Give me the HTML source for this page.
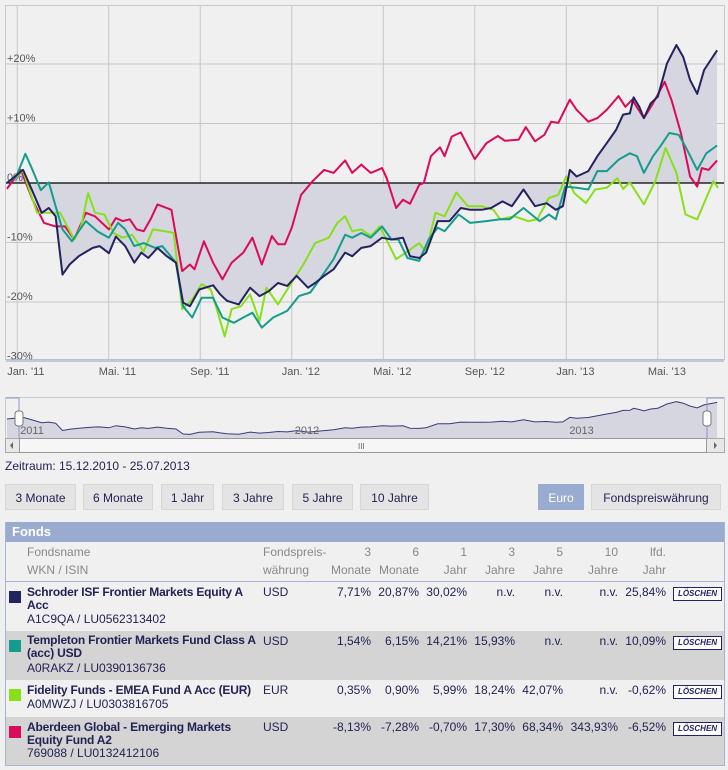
<!DOCTYPE html>
<html><head><meta charset="utf-8">
<style>
body{margin:0;width:728px;height:770px;background:#f0f0f0;font-family:"Liberation Sans",Arial,sans-serif;overflow:hidden;position:relative;color:#222255}
.abs{position:absolute}
.btn{position:absolute;top:484px;height:26px;line-height:26px;background:#e4e4e4;border:1px solid #d6d6d6;font-size:12px;text-align:center;color:#222255;box-sizing:border-box}
.tbl{position:absolute;left:5px;top:522px;width:718px;height:243px;border-left:1px solid #a8b4d4;border-right:1px solid #a8b4d4;border-bottom:1px solid #a8b4d4}
.hdr{position:absolute;left:0;top:0;width:718px;height:20px;background:#9aabd0;color:#fff;font-weight:bold;font-size:13px;line-height:20px;padding-left:6px;box-sizing:border-box}
.ch{position:absolute;font-size:12px;color:#888;line-height:18px}
.row{position:absolute;left:0;width:718px}
.cell{position:absolute;font-size:12px;line-height:13px;color:#222255}
.nm{font-weight:bold;width:232px;letter-spacing:-0.2px}
.r{text-align:right}
.sw{position:absolute;left:3px;width:12px;height:12px}
.del{position:absolute;left:667px;width:47px;height:12px;border:1px solid #222266;background:#fff;font-size:8px;font-weight:bold;font-style:italic;line-height:12px;text-align:center;color:#222266}
</style></head><body>
<svg id="chart" class="abs" style="left:0;top:0" width="728" height="460"></svg>
<div class="abs" style="left:5px;top:459px;font-size:12px;color:#222255">Zeitraum: 15.12.2010 - 25.07.2013</div>
<div class="btn" style="left:5px;width:71px">3 Monate</div>
<div class="btn" style="left:83px;width:70px">6 Monate</div>
<div class="btn" style="left:161px;width:53px">1 Jahr</div>
<div class="btn" style="left:222px;width:62px">3 Jahre</div>
<div class="btn" style="left:292px;width:61px">5 Jahre</div>
<div class="btn" style="left:360px;width:69px">10 Jahre</div>
<div class="btn" style="left:538px;width:46px;background:#9aabd0;color:#fff;border-color:#9aabd0">Euro</div>
<div class="btn" style="left:591px;width:130px">Fondspreiswährung</div>

<div class="tbl">
<div class="hdr">Fonds</div>
<div class="ch" style="left:21px;top:21px">Fondsname<br>WKN / ISIN</div>
<div class="ch" style="left:257px;top:21px">Fondspreis-<br>währung</div>
<div class="ch r" style="left:305px;width:60px;top:21px">3<br>Monate</div>
<div class="ch r" style="left:353px;width:60px;top:21px">6<br>Monate</div>
<div class="ch r" style="left:401px;width:60px;top:21px">1<br>Jahr</div>
<div class="ch r" style="left:449px;width:60px;top:21px">3<br>Jahre</div>
<div class="ch r" style="left:497px;width:60px;top:21px">5<br>Jahre</div>
<div class="ch r" style="left:552px;width:60px;top:21px">10<br>Jahre</div>
<div class="ch r" style="left:600px;width:60px;top:21px">lfd.<br>Jahr</div>
<div class="abs" style="left:0;top:59px;width:718px;height:1px;background:#a8b4d4"></div>

<div class="row" style="top:60px;height:49px;background:#f0f0f0">
<div class="sw" style="top:9px;background:#23235e"></div>
<div class="cell nm" style="left:21px;top:4px">Schroder ISF Frontier Markets Equity A Acc</div>
<div class="cell" style="left:21px;top:31px">A1C9QA / LU0562313402</div>
<div class="cell" style="left:257px;top:4px">USD</div>
<div class="cell r" style="left:305px;width:60px;top:4px">7,71%</div>
<div class="cell r" style="left:353px;width:60px;top:4px">20,87%</div>
<div class="cell r" style="left:401px;width:60px;top:4px">30,02%</div>
<div class="cell r" style="left:449px;width:60px;top:4px">n.v.</div>
<div class="cell r" style="left:497px;width:60px;top:4px">n.v.</div>
<div class="cell r" style="left:552px;width:60px;top:4px">n.v.</div>
<div class="cell r" style="left:600px;width:60px;top:4px">25,84%</div>
<div class="del" style="top:5px">LÖSCHEN</div>
</div>
<div class="row" style="top:109px;height:49px;background:#d4d4d4">
<div class="sw" style="top:9px;background:#149c8c"></div>
<div class="cell nm" style="left:21px;top:3px">Templeton Frontier Markets Fund Class A (acc) USD</div>
<div class="cell" style="left:21px;top:31px">A0RAKZ / LU0390136736</div>
<div class="cell" style="left:257px;top:4px">USD</div>
<div class="cell r" style="left:305px;width:60px;top:4px">1,54%</div>
<div class="cell r" style="left:353px;width:60px;top:4px">6,15%</div>
<div class="cell r" style="left:401px;width:60px;top:4px">14,21%</div>
<div class="cell r" style="left:449px;width:60px;top:4px">15,93%</div>
<div class="cell r" style="left:497px;width:60px;top:4px">n.v.</div>
<div class="cell r" style="left:552px;width:60px;top:4px">n.v.</div>
<div class="cell r" style="left:600px;width:60px;top:4px">10,09%</div>
<div class="del" style="top:5px">LÖSCHEN</div>
</div>
<div class="row" style="top:158px;height:37px;background:#f0f0f0">
<div class="sw" style="top:9px;background:#88e01a"></div>
<div class="cell nm" style="left:21px;top:4px;width:240px">Fidelity Funds - EMEA Fund A Acc (EUR)</div>
<div class="cell" style="left:21px;top:18px">A0MWZJ / LU0303816705</div>
<div class="cell" style="left:257px;top:4px">EUR</div>
<div class="cell r" style="left:305px;width:60px;top:4px">0,35%</div>
<div class="cell r" style="left:353px;width:60px;top:4px">0,90%</div>
<div class="cell r" style="left:401px;width:60px;top:4px">5,99%</div>
<div class="cell r" style="left:449px;width:60px;top:4px">18,24%</div>
<div class="cell r" style="left:497px;width:60px;top:4px">42,07%</div>
<div class="cell r" style="left:552px;width:60px;top:4px">n.v.</div>
<div class="cell r" style="left:600px;width:60px;top:4px">-0,62%</div>
<div class="del" style="top:5px">LÖSCHEN</div>
</div>
<div class="row" style="top:195px;height:48px;background:#d4d4d4">
<div class="sw" style="top:9px;background:#dc0a5a"></div>
<div class="cell nm" style="left:21px;top:4px">Aberdeen Global - Emerging Markets Equity Fund A2</div>
<div class="cell" style="left:21px;top:30px">769088 / LU0132412106</div>
<div class="cell" style="left:257px;top:4px">USD</div>
<div class="cell r" style="left:305px;width:60px;top:4px">-8,13%</div>
<div class="cell r" style="left:353px;width:60px;top:4px">-7,28%</div>
<div class="cell r" style="left:401px;width:60px;top:4px">-0,70%</div>
<div class="cell r" style="left:449px;width:60px;top:4px">17,30%</div>
<div class="cell r" style="left:497px;width:60px;top:4px">68,34%</div>
<div class="cell r" style="left:552px;width:60px;top:4px">343,93%</div>
<div class="cell r" style="left:600px;width:60px;top:4px">-6,52%</div>
<div class="del" style="top:5px">LÖSCHEN</div>
</div>
</div>

<script>
// months since Jan 2011 ; values in %
const schroderMonths=[-0.45,0.26,0.67,1.07,1.38,1.68,1.98,2.29,2.69,3.30,3.60,4.01,4.31,4.72,5.12,5.43,5.73,6.13,6.54,6.94,7.25,7.55,7.96,8.56,8.87,9.17,9.68,10.18,10.59,10.99,11.40,11.80,12.21,12.71,13.02,13.42,13.83,14.33,14.64,15.04,15.45,15.95,16.36,16.86,17.17,17.57,17.87,18.38,18.89,19.39,19.80,20.30,20.71,21.21,21.62,22.13,22.63,23.14,23.54,23.85,24.15,24.45,24.96,25.36,25.77,26.17,26.48,26.78,26.94,27.19,27.39,27.69,28.00,28.40,28.81,29.11,29.41,29.72,30.02,30.59];
const schroderValues=[0,2.2,-1.4,-5.0,-4.2,-5.6,-15.4,-13.7,-12.3,-10.9,-10.6,-11.8,-9.0,-10.6,-13.4,-11.7,-12.6,-10.9,-12.3,-13.4,-20.1,-20.7,-17.9,-17.2,-18.7,-19.8,-20.4,-17.6,-19.0,-18.2,-16.8,-17.3,-15.6,-17.6,-16.8,-15.6,-14.5,-11.7,-12.3,-10.9,-10.6,-9.2,-9.5,-9.2,-12.3,-12.6,-11.7,-6.4,-6.4,-4.2,-4.5,-4.5,-4.2,-3.1,-3.9,-1.1,-3.9,-3.4,-4.5,-3.9,2.2,1.1,2.0,4.5,6.7,8.9,11.5,11.7,14.4,12.8,10.9,13.4,14.5,20.1,23.2,21.2,17.3,15.0,19.0,22.3];
const templetonMonths=[-0.45,-0.04,0.36,0.67,1.03,1.38,1.68,1.98,2.39,3.00,3.50,4.01,4.41,4.72,5.12,5.53,6.03,6.34,6.94,7.25,7.65,8.06,8.56,8.97,9.47,9.88,10.28,10.69,11.19,11.80,12.31,12.81,13.22,13.83,14.33,14.64,15.04,15.45,15.95,16.36,16.66,17.06,17.57,17.98,18.38,18.68,19.29,19.80,20.51,21.11,21.52,22.13,22.83,23.24,23.54,23.95,24.45,24.96,25.36,25.77,26.28,26.78,27.09,27.39,27.79,28.10,28.50,28.91,29.21,29.72,30.12,30.59];
const templetonValues=[0,1.1,4.9,2.2,-1.2,0.1,-3.9,-7.8,-9.8,-6.4,-8.1,-9.2,-6.7,-7.8,-10.6,-10.1,-10.9,-10.6,-13.4,-20.7,-22.6,-19.3,-19.3,-22.6,-23.5,-22.6,-21.8,-24.3,-22.6,-21.5,-19.0,-18.4,-16.2,-12.8,-8.7,-9.2,-8.4,-9.2,-7.3,-9.5,-9.5,-12.6,-13.1,-9.5,-7.5,-8.1,-5.3,-6.7,-6.4,-6.1,-6.1,-4.2,-6.4,-5.3,-6.1,-0.6,-0.8,-1.1,2.0,2.0,3.9,5.0,4.5,1.7,4.5,6.1,8.4,8.1,6.1,2.2,5.0,6.3];
const fidelityMonths=[-0.45,0.26,0.87,1.38,1.88,2.49,2.79,3.10,3.40,3.81,4.21,4.61,5.02,5.53,5.93,6.44,6.84,7.21,7.65,8.06,8.46,8.77,9.07,9.37,9.78,10.18,10.59,10.89,11.40,11.90,12.51,13.02,13.62,13.99,14.33,14.64,15.04,15.45,15.85,16.56,17.06,17.57,17.87,18.28,18.68,19.19,19.70,20.30,20.81,21.11,21.72,22.33,22.73,23.24,23.65,23.99,24.35,24.86,25.26,25.77,26.23,26.48,26.78,27.39,27.89,28.34,28.81,29.21,29.72,30.12,30.43,30.63];
const fidelityValues=[0,2.0,-5.0,-5.0,-5.0,-9.5,-7.3,-1.7,-5.0,-5.3,-8.4,-9.2,-8.7,-11.5,-7.8,-8.1,-8.4,-21.2,-19.6,-17.0,-17.9,-21.8,-25.8,-21.2,-20.7,-18.7,-23.2,-17.6,-20.4,-17.3,-13.7,-10.1,-9.2,-6.7,-5.6,-8.1,-7.8,-8.9,-7.3,-12.8,-11.5,-10.1,-11.6,-5.0,-5.6,-1.6,-3.9,-3.9,-4.5,-6.1,-5.6,-6.4,-6.1,-2.5,-2.0,1.1,-1.7,-3.4,-1.1,-0.8,0.8,-1.0,0.1,-3.6,0.3,5.9,1.7,-5.3,-6.1,-2.5,0.3,-0.8];
const aberdeenMonths=[-0.45,0.16,0.67,1.17,1.68,2.09,2.49,3.00,3.40,4.01,4.31,4.61,4.92,5.22,5.53,5.83,6.13,6.74,7.21,7.55,7.75,8.16,8.56,8.97,9.37,9.88,10.28,10.69,11.13,11.40,11.70,12.00,12.41,12.91,13.42,13.83,14.33,14.64,15.04,15.45,15.65,15.95,16.15,16.56,16.86,17.17,17.57,17.77,18.08,18.48,18.68,18.99,19.39,20.00,20.51,21.01,21.32,21.92,22.23,22.63,23.04,23.34,23.65,24.15,24.45,24.96,25.36,25.77,26.28,26.58,26.88,27.39,27.79,28.30,28.60,29.01,29.41,29.72,29.92,30.22,30.59];
const aberdeenValues=[-1.0,2.2,-2.8,-6.7,-7.3,-7.3,-9.5,-5.0,-5.6,-7.8,-5.9,-6.4,-6.1,-7.8,-8.1,-6.1,-3.6,-4.5,-14.8,-13.7,-14.5,-9.8,-13.4,-16.2,-13.4,-11.7,-9.2,-13.7,-8.9,-10.3,-10.3,-7.5,-2.0,0.3,2.2,1.7,3.8,1.7,3.1,1.7,2.0,2.5,0.8,-4.2,-2.8,-3.5,-0.3,0,4.5,6.0,4.5,7.8,8.5,4.0,6.7,7.9,7.1,7.3,9.4,7.0,8.1,10.3,10.1,14.0,12.3,10.3,10.9,12.3,14.6,12.8,14.0,10.9,13.4,17.0,13.9,8.4,1.1,-0.6,2.5,2.2,3.8];
const yTicks=[20,10,0,-10,-20,-30];
const yTickLabels=["+20%","+10%","0%","-10%","-20%","-30%"];
const xTicks=[0,4,8,12,16,20,24,28];
const xTickLabels=["Jan. '11","Mai. '11","Sep. '11","Jan. '12","Mai. '12","Sep. '12","Jan. '13","Mai. '13"];
const navYears=[0,12,24];
const navYearLabels=["2011","2012","2013"];

const NS="http://www.w3.org/2000/svg";
const svg=document.getElementById('chart');
const X=m=>17.2+m*22.88;
const Y=v=>183-v*5.95;
const NY=v=>419-v*0.744;
function mk(tag,attrs,parent){const e=document.createElementNS(NS,tag);for(const k in attrs)e.setAttribute(k,attrs[k]);(parent||svg).appendChild(e);return e;}
function pts(ms,vs,yf){return ms.map((m,i)=>X(m).toFixed(1)+','+yf(vs[i]).toFixed(1)).join(' ');}

let r=mk('rect',{x:5.5,y:5.5,width:719,height:354,fill:'#f0f0f0',stroke:'#c8c8d0'});


yTicks.forEach((t,i)=>{
  let l=mk('line',{x1:6,x2:724,y1:Y(t),y2:Y(t),stroke:'#c6c6c6','stroke-width':1});
  
  
});
xTicks.forEach((t,i)=>{
  let l=mk('line',{x1:X(t),x2:X(t),y1:6,y2:360,stroke:'#c6c6c6','stroke-width':1});
  
  
  let tx=mk('text',{x:X(t)-10,y:375,'font-size':11,fill:'#555','font-family':'Liberation Sans'});
  tx.textContent=xTickLabels[i];
  
  
});
let ap=mk('polygon',{points:X(schroderMonths[0])+','+Y(0)+' '+pts(schroderMonths,schroderValues,Y)+' '+X(schroderMonths[schroderMonths.length-1])+','+Y(0),fill:'#d6d6e0'});


let zl=mk('line',{x1:6,x2:724,y1:Y(0),y2:Y(0),stroke:'#000','stroke-width':1.3});


yTicks.forEach((t,i)=>{
  let tx=mk('text',{x:7,y:Y(t)-2,'font-size':11,fill:'#555','font-family':'Liberation Sans'});
  tx.textContent=yTickLabels[i];
  
  
});
let bl=mk('line',{x1:6,x2:724,y1:360,y2:360,stroke:'#b0bcd8','stroke-width':1.5});


[[aberdeenMonths,aberdeenValues,'#dc0a5a','aberdeen-line'],[fidelityMonths,fidelityValues,'#88e01a','fidelity-line'],[templetonMonths,templetonValues,'#149c8c','templeton-line'],[schroderMonths,schroderValues,'#23235e','schroder-line']].forEach(s=>{
  let p=mk('polyline',{points:pts(s[0],s[1],Y),fill:'none',stroke:s[2],'stroke-width':2,'stroke-linejoin':'round'});
  
  
});
let nb=mk('rect',{x:5.5,y:397.5,width:719,height:55,fill:'#f0f0f0',stroke:'#c8c8d0'});


let np=mk('polygon',{points:X(schroderMonths[0])+',438 '+pts(schroderMonths,schroderValues,NY)+' '+X(schroderMonths[schroderMonths.length-1])+',438',fill:'#d6d6e0'});


let nl=mk('polyline',{points:pts(schroderMonths,schroderValues,NY),fill:'none',stroke:'#3a3a7a','stroke-width':1});


navYears.forEach((m,i)=>{
  let tx=mk('text',{x:X(m)+3,y:434,'font-size':11,fill:'#666','font-family':'Liberation Sans'});
  tx.textContent=navYearLabels[i];
  
  
});
mk('polyline',{points:'6,398 19,398 19,438',fill:'none',stroke:'#8898c8'});
mk('polyline',{points:'724,398 707,398 707,438',fill:'none',stroke:'#8898c8'});
[19,707].forEach(x=>{
  let h=mk('rect',{x:x-4,y:411,width:8,height:15,rx:3,fill:'#fff',stroke:'#777'});
  
  
});
let sb=mk('rect',{x:5.5,y:438.5,width:719,height:14,fill:'#e8e8e8',stroke:'#aaa'});


let th=mk('rect',{x:19.5,y:438.5,width:687,height:14,fill:'#f6f6f6',stroke:'#999'});


mk('text',{x:358,y:449,'font-size':8,fill:'#666'}).textContent='III';
mk('polygon',{points:'13,442 13,449 10,445.5',fill:'#666'});
mk('polygon',{points:'714,442 714,449 717,445.5',fill:'#666'});
</script>
</body></html>
